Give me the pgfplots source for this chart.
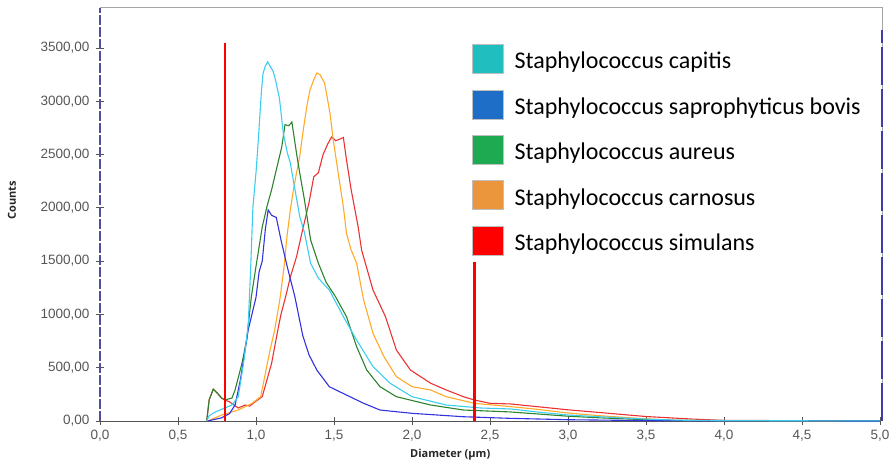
\documentclass[border=0pt]{standalone}
\usepackage{fontspec}
\setmainfont{Liberation Sans}
\newfontfamily\legfont{Carlito}
\newfontfamily\labfont{Open Sans}
\usepackage{pgfplots}
\pgfplotsset{compat=1.18}
\definecolor{cCyan}{RGB}{60,205,240}
\definecolor{cBlue}{RGB}{50,50,225}
\definecolor{cGreen}{RGB}{45,130,45}
\definecolor{cOrange}{RGB}{255,170,40}
\definecolor{cRed}{RGB}{235,50,50}
\definecolor{sCapitis}{RGB}{32,190,190}
\definecolor{sSapro}{RGB}{30,110,200}
\definecolor{sAureus}{RGB}{30,170,80}
\definecolor{sCarnosus}{RGB}{235,150,60}
\definecolor{sSimulans}{RGB}{255,0,0}
\definecolor{tickgray}{RGB}{85,85,85}
\definecolor{framegray}{RGB}{165,165,165}
\definecolor{dashblue}{RGB}{60,60,170}
\begin{document}
\begin{tikzpicture}
\begin{axis}[
  scale only axis, width=780pt, height=413pt,
  xmin=0, xmax=5, ymin=0, ymax=3875,
  xtick={0,0.5,1,1.5,2,2.5,3,3.5,4,4.5,5},
  ytick={0,500,1000,1500,2000,2500,3000,3500},
  /pgf/number format/assume math mode=true,
  xticklabel style={/pgf/number format/.cd, fixed, fixed zerofill, precision=1, use comma, /tikz/.cd, yshift=-2pt},
  yticklabel style={/pgf/number format/.cd, fixed, fixed zerofill, precision=2, use comma, 1000 sep={}, /tikz/.cd, xshift=-3pt},
  tick label style={font=\fontsize{13.5}{15}\selectfont, text=tickgray},
  tick align=center, major tick length=8pt,
  tick style={tickgray, line width=0.9pt},
  xtick pos=bottom, ytick pos=left,
  axis line style={draw=none},
  xlabel={Diameter (µm)}, ylabel={Counts},
  xlabel style={at={(axis description cs:0.449,-0.0823)}, anchor=center, font=\labfont\bfseries\fontsize{11}{13}\selectfont, text=black!85},
  ylabel style={at={(axis description cs:-0.1128,0.535)}, anchor=center, font=\labfont\bfseries\fontsize{11}{13}\selectfont, text=black!85},
  legend style={at={(rel axis cs:0.4769,0.9128)}, anchor=north west, draw=none, fill=white, inner sep=0pt, row sep=16pt,
    font=\legfont\fontsize{24}{28}\selectfont,
    /tikz/every odd column/.append style={column sep=9pt}},
  legend cell align=left,
  legend image code/.code={\filldraw[#1, draw=black!25] (0pt,-12pt) rectangle (31pt,17pt);},
  clip=false,
]
% frame
\draw[framegray, line width=1pt] (rel axis cs:0,1) -- (rel axis cs:1.003,1) -- (rel axis cs:1.003,0);
\draw[tickgray, line width=1pt] (rel axis cs:0,0) -- (rel axis cs:1,0);
\draw[dashblue!70!gray, line width=1.2pt, dash pattern=on 10pt off 2pt] (rel axis cs:0,0) -- (rel axis cs:0,1);
\draw[dashblue, line width=2pt, dash pattern=on 38pt off 4pt] (rel axis cs:1.002,0) -- (rel axis cs:1.002,0.947);

\addlegendimage{fill=sCapitis}\addlegendentry{Staphylococcus capitis}
\addlegendimage{fill=sSapro}\addlegendentry{Staphylococcus saprophyticus bovis}
\addlegendimage{fill=sAureus}\addlegendentry{Staphylococcus aureus}
\addlegendimage{fill=sCarnosus}\addlegendentry{Staphylococcus carnosus}
\addlegendimage{fill=sSimulans}\addlegendentry{Staphylococcus simulans}

% simulans
\addplot[cRed, line width=1.1pt, forget plot] coordinates {
(0.684,0) (0.70,200) (0.726,298) (0.75,265) (0.78,215) (0.80,197) (0.83,180) (0.886,122)
(0.93,150) (0.96,140) (0.994,180) (1.04,228) (1.07,385) (1.10,541) (1.14,854) (1.16,1000)
(1.19,1166) (1.22,1350) (1.26,1542) (1.30,1800) (1.34,2050) (1.37,2290) (1.40,2330)
(1.43,2500) (1.46,2600) (1.485,2665) (1.51,2630) (1.53,2640) (1.56,2660) (1.58,2450)
(1.61,2170) (1.655,1820) (1.677,1604) (1.75,1229) (1.83,979) (1.90,666) (1.99,478)
(2.12,354) (2.22,291) (2.33,228) (2.40,197) (2.5,166) (2.63,160) (2.8,135) (3.0,105)
(3.2,80) (3.5,42) (3.8,18) (4.0,6) (4.5,3) (5.0,0)};
% carnosus
\addplot[cOrange, line width=1.1pt, forget plot] coordinates {
(0.69,0) (0.78,56) (0.886,103) (0.975,166) (1.03,228) (1.06,447) (1.09,666) (1.12,854)
(1.155,1160) (1.18,1450) (1.20,1750) (1.22,1980) (1.24,2170) (1.26,2330) (1.28,2480)
(1.30,2700) (1.325,2946) (1.346,3105) (1.37,3200) (1.39,3265) (1.41,3250) (1.44,3170)
(1.474,2890) (1.495,2640) (1.527,2325) (1.56,2010) (1.58,1760) (1.61,1604) (1.645,1480)
(1.69,1135) (1.75,823) (1.82,604) (1.90,416) (2.0,322) (2.12,291) (2.22,228) (2.40,166)
(2.63,135) (2.8,110) (3.0,75) (3.2,50) (3.5,20) (3.7,6) (4.0,2) (5.0,0)};
% aureus
\addplot[cGreen, line width=1.1pt, forget plot] coordinates {
(0.684,0) (0.70,200) (0.726,298) (0.75,265) (0.78,215) (0.80,197) (0.846,216) (0.866,291)
(0.91,541) (0.94,760) (0.97,1163) (1.00,1450) (1.04,1820) (1.07,2010) (1.10,2170)
(1.134,2380) (1.165,2570) (1.186,2780) (1.21,2770) (1.23,2805) (1.26,2510) (1.28,2330)
(1.31,2080) (1.35,1700) (1.40,1480) (1.45,1300) (1.51,1166) (1.58,979) (1.645,697)
(1.71,478) (1.795,322) (1.90,228) (2.12,150) (2.33,103) (2.63,85) (3.0,45) (3.2,30)
(3.5,12) (3.7,5) (4.0,2) (5.0,0)};
% saprophyticus bovis
\addplot[cBlue, line width=1.1pt, forget plot] coordinates {
(0.69,0) (0.78,30) (0.83,69) (0.866,150) (0.90,385) (0.93,666) (0.95,854) (1.00,1160)
(1.02,1400) (1.04,1500) (1.06,1800) (1.078,1980) (1.10,1930) (1.13,1910) (1.16,1700)
(1.20,1450) (1.25,1160) (1.30,800) (1.34,620) (1.39,478) (1.47,322) (1.54,272) (1.69,166)
(1.795,103) (2.0,72) (2.33,40) (2.63,25) (3.0,12) (3.5,4) (4.0,2) (5.0,0)};
% capitis
\addplot[cCyan, line width=1.1pt, forget plot] coordinates {
(0.684,0) (0.70,50) (0.74,85) (0.80,122) (0.846,150) (0.886,228) (0.92,541) (0.95,900)
(0.965,1400) (0.98,2000) (1.00,2330) (1.015,2640) (1.035,3100) (1.045,3260) (1.06,3330)
(1.075,3370) (1.09,3330) (1.11,3280) (1.125,3200) (1.15,3030) (1.175,2700) (1.20,2520)
(1.22,2420) (1.25,2170) (1.28,1920) (1.31,1770) (1.35,1480) (1.40,1340) (1.47,1229)
(1.56,979) (1.645,760) (1.75,510) (1.86,354) (2.0,228) (2.22,150) (2.44,122) (2.63,113)
(2.8,85) (3.0,56) (3.2,40) (3.5,18) (3.7,8) (4.0,4) (4.5,2) (5.0,1)};
% red limit lines
\addplot[red, line width=2.5pt, forget plot] coordinates {(0.8,0) (0.8,3550)};
\addplot[red, line width=2.5pt, forget plot] coordinates {(2.4,0) (2.4,1490)};
\end{axis}
\pgfresetboundingbox
\path[use as bounding box] ([xshift=-100pt,yshift=-46pt]current axis.south west) rectangle ([xshift=12pt,yshift=8pt]current axis.north east);
\end{tikzpicture}
\end{document}
